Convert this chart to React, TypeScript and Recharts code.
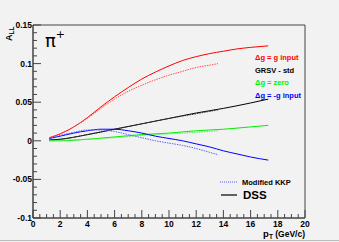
import React from 'react';
import { LineChart, Line, XAxis, YAxis, ReferenceArea } from 'recharts';

// pT (GeV/c) vs A_LL
const redSolid = [
  { x: 1.2, y: 0.004 }, { x: 2, y: 0.009 }, { x: 3, y: 0.018 }, { x: 4, y: 0.03 },
  { x: 5, y: 0.044 }, { x: 6, y: 0.057 }, { x: 7, y: 0.069 }, { x: 8, y: 0.08 },
  { x: 9, y: 0.089 }, { x: 10, y: 0.097 }, { x: 11, y: 0.104 }, { x: 12, y: 0.109 },
  { x: 13, y: 0.113 }, { x: 14, y: 0.116 }, { x: 15, y: 0.119 }, { x: 16, y: 0.121 },
  { x: 17.3, y: 0.123 },
];
const redDotted = [
  { x: 1.2, y: 0.004 }, { x: 2, y: 0.009 }, { x: 3, y: 0.018 }, { x: 4, y: 0.029 },
  { x: 5, y: 0.042 }, { x: 6, y: 0.054 }, { x: 7, y: 0.064 }, { x: 8, y: 0.072 },
  { x: 9, y: 0.079 }, { x: 10, y: 0.085 }, { x: 11, y: 0.09 }, { x: 12, y: 0.095 },
  { x: 13, y: 0.098 }, { x: 13.6, y: 0.1 },
];
const blackSolid = [
  { x: 1.2, y: 0.001 }, { x: 2, y: 0.002 }, { x: 4, y: 0.008 }, { x: 6, y: 0.015 },
  { x: 8, y: 0.022 }, { x: 10, y: 0.029 }, { x: 12, y: 0.036 }, { x: 14, y: 0.042 },
  { x: 16, y: 0.049 }, { x: 17.3, y: 0.054 },
];
const blackDotted = [
  { x: 1.2, y: 0.001 }, { x: 2, y: 0.002 }, { x: 4, y: 0.008 }, { x: 6, y: 0.015 },
  { x: 8, y: 0.022 }, { x: 10, y: 0.029 }, { x: 12, y: 0.035 }, { x: 13.6, y: 0.04 },
];
const greenSolid = [
  { x: 1.2, y: 0 }, { x: 2, y: 0 }, { x: 4, y: 0.002 }, { x: 6, y: 0.005 },
  { x: 8, y: 0.008 }, { x: 10, y: 0.01 }, { x: 12, y: 0.013 }, { x: 14, y: 0.015 },
  { x: 16, y: 0.018 }, { x: 17.3, y: 0.02 },
];
const greenDotted = [
  { x: 1.2, y: 0 }, { x: 4, y: 0.002 }, { x: 6, y: 0.004 }, { x: 8, y: 0.007 },
  { x: 10, y: 0.009 }, { x: 12, y: 0.011 }, { x: 13.6, y: 0.013 },
];
const blueSolid = [
  { x: 1.2, y: 0.003 }, { x: 2, y: 0.006 }, { x: 3, y: 0.01 }, { x: 4, y: 0.013 },
  { x: 5, y: 0.015 }, { x: 6, y: 0.015 }, { x: 7, y: 0.013 }, { x: 8, y: 0.01 },
  { x: 9, y: 0.006 }, { x: 10, y: 0.003 }, { x: 11, y: 0 }, { x: 12, y: -0.004 },
  { x: 13, y: -0.008 }, { x: 14, y: -0.013 }, { x: 15, y: -0.017 }, { x: 16, y: -0.021 },
  { x: 17.3, y: -0.025 },
];
const blueDotted = [
  { x: 1.2, y: 0.003 }, { x: 2, y: 0.007 }, { x: 3, y: 0.011 }, { x: 4, y: 0.014 },
  { x: 5, y: 0.014 }, { x: 6, y: 0.012 }, { x: 7, y: 0.008 }, { x: 8, y: 0.004 },
  { x: 9, y: 0 }, { x: 10, y: -0.003 }, { x: 11, y: -0.006 }, { x: 12, y: -0.01 },
  { x: 13, y: -0.015 }, { x: 13.6, y: -0.018 },
];

const xMajor = [0, 2, 4, 6, 8, 10, 12, 14, 16, 18, 20];
const yMajor = [-0.1, -0.05, 0, 0.05, 0.1, 0.15];
const yLabels = ['-0.1', '-0.05', '0', '0.05', '0.1', '0.15'];

const legendItems = [
  { text: 'Δg = g input', color: '#ff0000' },
  { text: 'GRSV - std', color: '#000000' },
  { text: 'Δg = zero', color: '#00ee00' },
  { text: 'Δg = -g input', color: '#0000ff' },
];

// minor ticks: 0.5 on x, 0.01 on y
const xTicks: number[] = [];
for (let i = 0; i <= 40; i++) xTicks.push(i / 2);
const yTicks: number[] = [];
for (let i = -10; i <= 15; i++) yTicks.push(i / 100);

const FONT = '"Liberation Sans", Arial, sans-serif';
const AXIS = '#444';

const isMajorX = (v: number) => xMajor.includes(v);

const XTick = (props: any) => {
  const { x, y, payload } = props;
  const major = isMajorX(payload.value);
  return (
    <g>
      <line x1={x} x2={x} y1={y} y2={y - (major ? 8 : 4)} stroke={AXIS} strokeWidth={1} />
      {major && (
        <text x={x} y={y + 9} textAnchor="middle" fontSize={8.5} fontWeight="bold" fontFamily={FONT} fill="#000">
          {payload.value}
        </text>
      )}
    </g>
  );
};

const YTick = (props: any) => {
  const { x, y, payload } = props;
  const idx = yMajor.findIndex((m) => Math.abs(m - payload.value) < 1e-9);
  return (
    <g>
      <line x1={x} x2={x + (idx >= 0 ? 8 : 4)} y1={y} y2={y} stroke={AXIS} strokeWidth={1} />
      {idx >= 0 && (
        <text x={x - 1} y={y + 3} textAnchor="end" fontSize={8.5} fontWeight="bold" fontFamily={FONT} fill="#000">
          {yLabels[idx]}
        </text>
      )}
    </g>
  );
};

const series = [
  { data: redSolid, color: '#ff0000', dotted: false },
  { data: redDotted, color: '#ff5050', dotted: true },
  { data: blackSolid, color: '#000000', dotted: false },
  { data: blackDotted, color: '#333333', dotted: true },
  { data: greenSolid, color: '#00ee00', dotted: false },
  { data: greenDotted, color: '#55ee55', dotted: true },
  { data: blueSolid, color: '#0000ff', dotted: false },
  { data: blueDotted, color: '#6060ff', dotted: true },
];

export default function App() {
  return (
    <div style={{ position: 'absolute', left: 0, top: 0, width: 339, height: 242, background: '#f2f2f2', overflow: 'hidden' }}>
      <LineChart width={339} height={242} margin={{ top: 25, right: 34, left: 0, bottom: 0 }}>
        <XAxis
          type="number"
          dataKey="x"
          domain={[0, 20]}
          ticks={xTicks}
          interval={0}
          tickLine={false}
          tickSize={0}
          tickMargin={0}
          height={24}
          stroke={AXIS}
          tick={<XTick />}
          allowDataOverflow
        />
        <YAxis
          type="number"
          dataKey="y"
          domain={[-0.1, 0.15]}
          ticks={yTicks}
          interval={0}
          tickLine={false}
          tickSize={0}
          tickMargin={0}
          width={33}
          stroke={AXIS}
          tick={<YTick />}
          allowDataOverflow
        />
        <ReferenceArea x1={0} x2={20} y1={-0.1} y2={0.15} fill="none" stroke={AXIS} strokeWidth={1} fillOpacity={0} />
        {series.map((s, i) => (
          <Line
            key={i}
            data={s.data}
            dataKey="y"
            type="monotone"
            stroke={s.color}
            strokeWidth={1}
            strokeDasharray={s.dotted ? '1.5 1' : undefined}
            dot={false}
            isAnimationActive={false}
          />
        ))}
      </LineChart>
      <svg width={339} height={242} style={{ position: 'absolute', left: 0, top: 0, pointerEvents: 'none' }}>
        <text x={12} y={41} transform="rotate(-90 12 41)" fontSize={9} fontWeight="bold" fontFamily={FONT} fill="#000">
          A<tspan fontSize={6.5} dy={2}>LL</tspan>
        </text>
        <text x={45} y={47} fontSize={18} fontFamily='"DejaVu Sans", sans-serif' fill="#000">
          π<tspan fontSize={11} dy={-9}>+</tspan>
        </text>
        {legendItems.map((l, i) => (
          <text key={l.text} x={255} y={60 + i * 12.5} fontSize={7.5} fontWeight="bold" fontFamily={FONT} fill={l.color}>
            {l.text}
          </text>
        ))}
        <line x1={220} x2={238} y1={182} y2={182} stroke="#5555ff" strokeWidth={1} strokeDasharray="1 1" />
        <text x={242} y={185} fontSize={7.5} fontWeight="bold" fontFamily={FONT} fill="#000">
          Modified KKP
        </text>
        <line x1={221} x2={237} y1={195} y2={195} stroke="#000" strokeWidth={1.2} />
        <text x={243} y={199} fontSize={11.5} fontWeight="bold" fontFamily={FONT} fill="#000">
          DSS
        </text>
        <text x={305} y={237} textAnchor="end" fontSize={9.5} fontWeight="bold" fontFamily={FONT} fill="#000">
          p<tspan fontSize={6.5} dy={2}>T</tspan>
          <tspan dy={-2} fontSize={8.5}> (GeV/c)</tspan>
        </text>
        <line x1={0} x2={339} y1={240.5} y2={240.5} stroke="#bbb" strokeWidth={1} />
      </svg>
    </div>
  );
}
